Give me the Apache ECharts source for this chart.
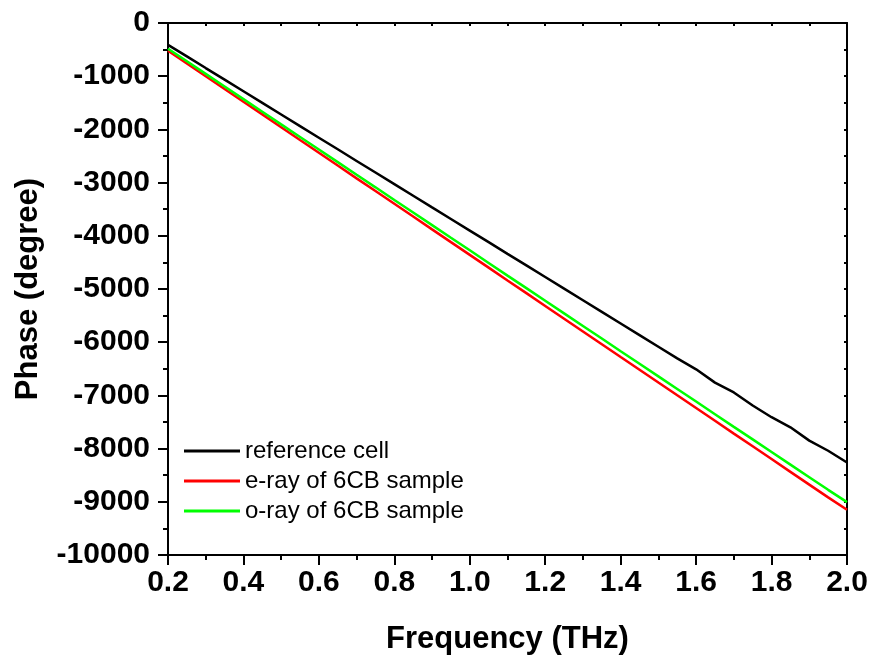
<!DOCTYPE html>
<html>
<head>
<meta charset="utf-8">
<script src="https://cdn.jsdelivr.net/npm/echarts@6/dist/echarts.min.js"></script>
<style>
html,body{margin:0;padding:0;background:#fff;}
#chart{width:874px;height:666px;}
</style>
</head>
<body>
<div id="chart"></div>
<script>
var frequency = [0.20,0.25,0.30,0.35,0.40,0.45,0.50,0.55,0.60,0.65,0.70,0.75,0.80,0.85,0.90,0.95,1.00,1.05,1.10,1.15,1.20,1.25,1.30,1.35,1.40,1.45,1.50,1.55,1.60,1.65,1.70,1.75,1.80,1.85,1.90,1.95,2.00];
var referenceCell = [-410,-628,-847,-1065,-1283,-1501,-1720,-1938,-2156,-2374,-2593,-2811,-3029,-3247,-3466,-3684,-3902,-4120,-4339,-4557,-4775,-4993,-5212,-5430,-5648,-5866,-6085,-6303,-6510,-6760,-6945,-7190,-7410,-7600,-7850,-8040,-8262];
var eRay = [-520,-760,-1000,-1240,-1480,-1718,-1960,-2200,-2439,-2679,-2920,-3159,-3399,-3638,-3879,-4119,-4358,-4598,-4839,-5078,-5318,-5558,-5798,-6038,-6278,-6517,-6758,-6998,-7237,-7477,-7718,-7957,-8197,-8437,-8677,-8917,-9150];
var oRay = [-483,-720,-957,-1194,-1431,-1667,-1905,-2142,-2378,-2615,-2853,-3089,-3326,-3562,-3800,-4037,-4273,-4510,-4748,-4984,-5221,-5458,-5695,-5932,-6169,-6405,-6643,-6880,-7116,-7353,-7591,-7827,-8064,-8301,-8538,-8775,-9006];
var seriesNames = ['reference cell','e-ray of 6CB sample','o-ray of 6CB sample'];
var seriesColors = ['#000000','#ff0000','#00ff00'];
var xTicks = {min:0.2, max:2.0, interval:0.2};
var yTicks = {min:-10000, max:0, interval:1000};

function pairs(ys){ return frequency.map(function(f,i){ return [f, ys[i]]; }); }

var chart = echarts.init(document.getElementById('chart'), null, {renderer:'canvas'});
var fontFam = '"Liberation Sans", Arial, sans-serif';
var option = {
  animation:false,
  backgroundColor:'#ffffff',
  grid:{left:168, right:27, top:23, bottom:111, containLabel:false},
  legend:{
    orient:'vertical', left:179, top:434,
    icon:'rect', itemWidth:56, itemHeight:3, itemGap:6,
    textStyle:{fontFamily:fontFam, fontSize:24, color:'#000'},
    data:seriesNames
  },
  xAxis:[{
    type:'value', min:xTicks.min, max:xTicks.max, interval:xTicks.interval,
    name:'Frequency (THz)', nameLocation:'middle', nameGap:69,
    nameTextStyle:{fontFamily:fontFam, fontSize:31, fontWeight:'bold', color:'#000'},
    axisLine:{show:true, onZero:false, lineStyle:{color:'#000', width:2}},
    axisTick:{show:true, inside:false, length:10, lineStyle:{color:'#000', width:2}},
    minorTick:{show:true, splitNumber:2, length:5, lineStyle:{color:'#000', width:2}},
    axisLabel:{fontFamily:fontFam, fontSize:30, fontWeight:'bold', color:'#000', margin:13,
      formatter:function(v){ return v.toFixed(1); }},
    splitLine:{show:false}
  },{
    type:'value', position:'top', min:xTicks.min, max:xTicks.max, interval:0.1,
    axisLine:{show:true, onZero:false, lineStyle:{color:'#000', width:2}},
    axisTick:{show:true, inside:true, length:3, lineStyle:{color:'#000', width:2}},
    axisLabel:{show:false}, splitLine:{show:false}
  }],
  yAxis:[{
    type:'value', min:yTicks.min, max:yTicks.max, interval:yTicks.interval,
    name:'Phase (degree)', nameLocation:'middle', nameGap:124,
    nameTextStyle:{fontFamily:fontFam, fontSize:31, fontWeight:'bold', color:'#000'},
    axisLine:{show:true, onZero:false, lineStyle:{color:'#000', width:2}},
    axisTick:{show:true, inside:false, length:10, lineStyle:{color:'#000', width:2}},
    minorTick:{show:true, splitNumber:2, length:5, lineStyle:{color:'#000', width:2}},
    axisLabel:{fontFamily:fontFam, fontSize:30, fontWeight:'bold', color:'#000', margin:18,
      formatter:function(v){ return String(v); }},
    splitLine:{show:false}
  },{
    type:'value', position:'right', min:yTicks.min, max:yTicks.max, interval:500,
    axisLine:{show:true, onZero:false, lineStyle:{color:'#000', width:2}},
    axisTick:{show:true, inside:true, length:3, lineStyle:{color:'#000', width:2}},
    axisLabel:{show:false}, splitLine:{show:false}
  }],
  series:[
    {name:seriesNames[0], type:'line', data:pairs(referenceCell), showSymbol:false, symbol:'none',
      lineStyle:{color:seriesColors[0], width:2.5}, itemStyle:{color:seriesColors[0]}},
    {name:seriesNames[1], type:'line', data:pairs(eRay), showSymbol:false, symbol:'none',
      lineStyle:{color:seriesColors[1], width:2.5}, itemStyle:{color:seriesColors[1]}},
    {name:seriesNames[2], type:'line', data:pairs(oRay), showSymbol:false, symbol:'none',
      lineStyle:{color:seriesColors[2], width:2.5}, itemStyle:{color:seriesColors[2]}}
  ]
};
chart.setOption(option);
</script>
</body>
</html>
